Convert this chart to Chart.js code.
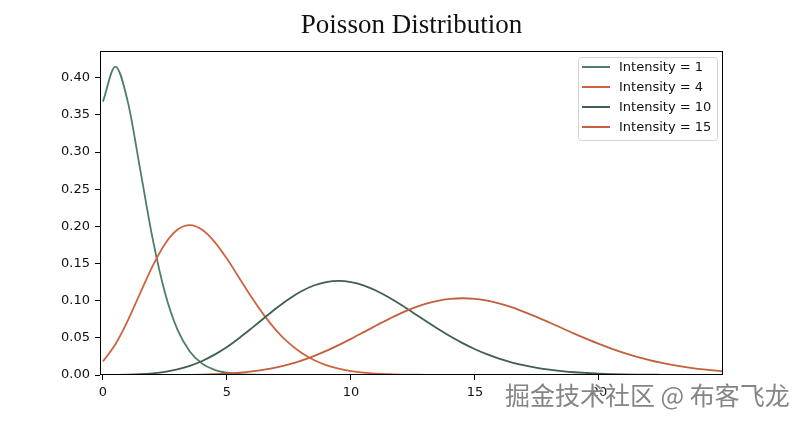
<!DOCTYPE html>
<html>
<head>
<meta charset="utf-8">
<script src="https://cdn.jsdelivr.net/npm/chart.js@4.4.0/dist/chart.umd.min.js"></script>
<style>
  html, body { margin: 0; padding: 0; background: #fff; }
  #wrap { width: 804px; height: 422px; position: relative; }
</style>
</head>
<body>
<div id="wrap"><canvas id="myChart" width="804" height="422"></canvas></div>
<script>
// x positions the curves were read at
const xValues = [0, 0.5, 1, 1.5, 2, 2.5, 3, 3.5, 4, 4.5, 5, 5.5, 6, 6.5, 7, 7.5, 8, 8.5, 9, 9.5,
  10, 10.5, 11, 11.5, 12, 12.5, 13, 13.5, 14, 14.5, 15, 15.5, 16, 16.5, 17, 17.5, 18, 18.5, 19, 19.5,
  20, 20.5, 21, 21.5, 22, 22.5, 23, 23.5, 24, 24.5, 25];

const seriesLabels = ['Intensity = 1', 'Intensity = 4', 'Intensity = 10', 'Intensity = 15'];

const intensity1 = [0.3679, 0.4151, 0.3679, 0.2767, 0.1839, 0.1107, 0.0613, 0.0316, 0.0153, 0.0070,
  0.0031, 0.0013, 0.0005, 0.0002, 0.0001, 0, 0, 0, 0, 0,
  0, 0, 0, 0, 0, 0, 0, 0, 0, 0,
  0, 0, 0, 0, 0, 0, 0, 0, 0, 0,
  0, 0, 0, 0, 0, 0, 0, 0, 0, 0, 0];

const intensity4 = [0.0183, 0.0413, 0.0733, 0.1102, 0.1465, 0.1764, 0.1954, 0.2016, 0.1954, 0.1792,
  0.1563, 0.1303, 0.1042, 0.0802, 0.0595, 0.0428, 0.0298, 0.0201, 0.0132, 0.0085,
  0.0053, 0.0032, 0.0019, 0.0011, 0.0006, 0.0004, 0.0002, 0.0001, 0.0001, 0,
  0, 0, 0, 0, 0, 0, 0, 0, 0, 0,
  0, 0, 0, 0, 0, 0, 0, 0, 0, 0, 0];

const intensity10 = [0.0000, 0.0002, 0.0005, 0.0011, 0.0023, 0.0043, 0.0076, 0.0123, 0.0189, 0.0274,
  0.0378, 0.0499, 0.0631, 0.0767, 0.0901, 0.1023, 0.1126, 0.1204, 0.1251, 0.1267,
  0.1251, 0.1207, 0.1137, 0.1049, 0.0948, 0.0839, 0.0729, 0.0622, 0.0521, 0.0429,
  0.0347, 0.0277, 0.0217, 0.0168, 0.0128, 0.0096, 0.0071, 0.0052, 0.0037, 0.0027,
  0.0019, 0.0013, 0.0009, 0.0006, 0.0004, 0.0003, 0.0002, 0.0001, 0.0001, 0.0000, 0.0000];

const intensity15 = [0, 0, 0, 0, 0, 0.0001, 0.0002, 0.0003, 0.0006, 0.0011,
  0.0019, 0.0031, 0.0048, 0.0072, 0.0104, 0.0144, 0.0194, 0.0255, 0.0324, 0.0402,
  0.0486, 0.0574, 0.0663, 0.0749, 0.0829, 0.0899, 0.0956, 0.0999, 0.1024, 0.1033,
  0.1024, 0.1000, 0.0960, 0.0909, 0.0847, 0.0779, 0.0706, 0.0632, 0.0557, 0.0486,
  0.0418, 0.0355, 0.0299, 0.0248, 0.0204, 0.0165, 0.0133, 0.0106, 0.0083, 0.0065, 0.0050];

const xTicks = [0, 5, 10, 15, 20];
const yTicks = [0, 0.05, 0.10, 0.15, 0.20, 0.25, 0.30, 0.35, 0.40];

const colors = ['#4f7d66', '#cc6440', '#3f5f4f', '#c2603e'];

function toPoints(ys) {
  return xValues.map((x, i) => ({ x: x, y: ys[i] }));
}

const allSeries = [intensity1, intensity4, intensity10, intensity15];

const data = {
  datasets: allSeries.map((s, i) => ({
    label: seriesLabels[i],
    data: toPoints(s),
    borderColor: colors[i],
    backgroundColor: colors[i],
    borderWidth: 1.8,
    pointRadius: 0,
    cubicInterpolationMode: 'monotone',
    fill: false,
    order: allSeries.length - i
  }))
};

const tickFont = { family: 'DejaVu Sans', size: 13 };

// title, frame, legend box and the watermark
const decorations = {
  id: 'decorations',
  afterDraw: (chart) => {
    const ctx = chart.ctx;
    const a = chart.chartArea;
    ctx.save();

    // frame
    ctx.strokeStyle = '#000';
    ctx.lineWidth = 1;
    ctx.strokeRect(Math.round(a.left) + 0.5, Math.round(a.top) + 0.5,
      Math.round(a.right - a.left) - 1, Math.round(a.bottom - a.top) - 1);

    // title
    ctx.fillStyle = '#111';
    ctx.font = '27px "Liberation Serif"';
    ctx.textAlign = 'center';
    ctx.textBaseline = 'alphabetic';
    ctx.fillText('Poisson Distribution', (a.left + a.right) / 2, 33);

    // legend
    const lx = 578, ly = 57, lw = 139, lh = 83;
    ctx.beginPath();
    ctx.roundRect(lx + 0.5, ly + 0.5, lw, lh, 3);
    ctx.fillStyle = 'rgba(255,255,255,0.8)';
    ctx.fill();
    ctx.strokeStyle = '#d4d4d4';
    ctx.stroke();
    ctx.font = '13px "DejaVu Sans"';
    ctx.textAlign = 'left';
    ctx.textBaseline = 'middle';
    chart.data.datasets.forEach((ds, i) => {
      const y = ly + 10 + i * 20;
      ctx.strokeStyle = ds.borderColor;
      ctx.lineWidth = 2;
      ctx.beginPath();
      ctx.moveTo(lx + 4, y);
      ctx.lineTo(lx + 32, y);
      ctx.stroke();
      ctx.fillStyle = '#111';
      ctx.fillText(ds.label, lx + 41, y + 1);
    });

    // watermark: grey text with a light offset shadow
    ctx.font = '25px "Noto Sans CJK SC"';
    ctx.textAlign = 'left';
    ctx.textBaseline = 'alphabetic';
    ctx.shadowColor = 'rgba(255,255,255,0.95)';
    ctx.shadowOffsetX = 1;
    ctx.shadowOffsetY = 1;
    ctx.shadowBlur = 1;
    ctx.fillStyle = '#858585';
    ctx.fillText('掘金技术社区 @ 布客飞龙', 505, 405);
    ctx.restore();
  }
};

const config = {
  type: 'line',
  data: data,
  options: {
    responsive: false,
    animation: false,
    layout: { padding: { top: 51, right: 81, left: 0, bottom: 0 } },
    plugins: {
      legend: { display: false },
      title: { display: false },
      tooltip: { enabled: false }
    },
    scales: {
      x: {
        type: 'linear',
        min: -0.12,
        max: 25,
        afterBuildTicks: (scale) => { scale.ticks = xTicks.map(v => ({ value: v })); },
        afterFit: (scale) => { scale.height = 47; },
        ticks: {
          font: tickFont,
          color: '#111',
          padding: 5,
          maxRotation: 0,
          callback: (v) => String(v)
        },
        grid: { drawOnChartArea: false, drawTicks: true, tickLength: 5, color: '#000' },
        border: { display: false }
      },
      y: {
        type: 'linear',
        min: 0,
        max: 0.436,
        afterBuildTicks: (scale) => { scale.ticks = yTicks.map(v => ({ value: v })); },
        afterFit: (scale) => { scale.width = 100; },
        ticks: {
          font: tickFont,
          color: '#111',
          padding: 5,
          callback: (v) => v.toFixed(2)
        },
        grid: { drawOnChartArea: false, drawTicks: true, tickLength: 5, color: '#000' },
        border: { display: false }
      }
    }
  },
  plugins: [decorations]
};

const myChart = new Chart(document.getElementById('myChart'), config);
</script>
</body>
</html>
